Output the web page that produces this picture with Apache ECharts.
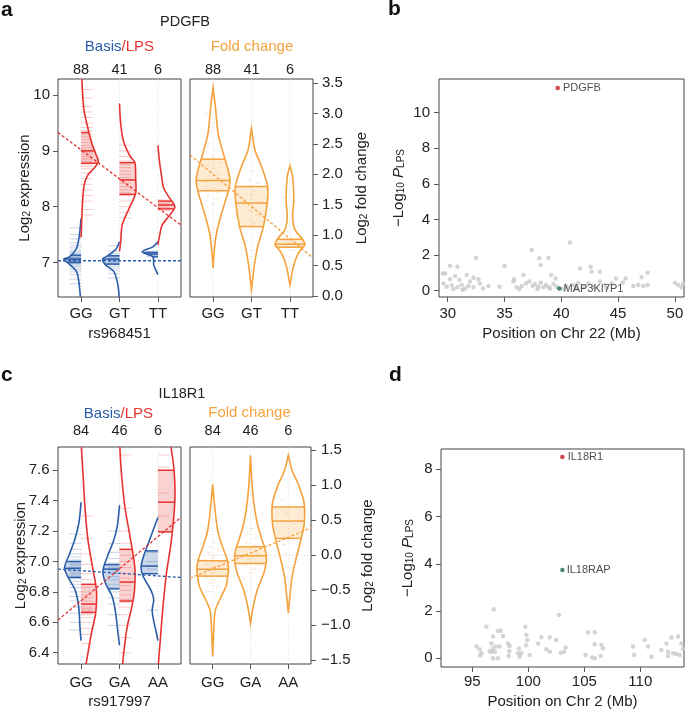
<!DOCTYPE html>
<html>
<head>
<meta charset="utf-8">
<script src="https://cdn.jsdelivr.net/npm/echarts@6/dist/echarts.min.js"></script>
<style>
  html, body { margin: 0; padding: 0; background: #fff; }
  #chart { width: 685px; height: 721px; }
</style>
</head>
<body>
<div id="chart"></div>
<script>
const FONT = '"Liberation Sans", Arial, Helvetica, sans-serif';
const TXT = '#222', AX = '#555';
const BLUE = '#2b5da9', RED = '#e63331', ORANGE = '#f5a23c', GREY = '#c9c9c9';
const BLUE_F = 'rgba(43,93,169,0.24)', RED_F = 'rgba(230,51,49,0.22)', ORANGE_F = 'rgba(245,162,60,0.22)';

// ---------- a : PDGFB, rs968451
const genoA = ['GG', 'GT', 'TT'];
const countsA = [88, 41, 6];
// violin outlines: [log2 value, half width in genotype units], top to bottom
const basisProfA = [
  [[7.79,0],[7.49,0.044],[7.25,0.12],[7.1,0.3],[7.06,0.45],[6.99,0.34],[6.84,0.12],[6.66,0.06],[6.48,0.03],[6.3,0.01]],
  [[7.37,0],[7.25,0.08],[7.13,0.28],[7.06,0.44],[6.96,0.37],[6.84,0.15],[6.66,0.06],[6.48,0.02],[6.3,0.01]],
  [[7.37,0],[7.28,0.13],[7.19,0.41],[7.1,0.13],[6.96,0.11],[6.84,0.04],[6.78,0]]
];
const basisBoxA = [[7.0,7.06,7.13],[6.97,7.06,7.12],[7.1,7.15,7.18]];
const basisPtsA = [
  [7.62,7.5,7.42,7.35,7.3,7.26,7.22,7.19,7.17,7.15,7.13,7.12,7.1,7.09,7.08,7.07,7.06,7.05,7.05,7.04,7.03,7.02,7.01,7.0,6.99,6.98,6.97,6.95,6.93,6.9,6.87,6.83,6.78,6.7,6.62],
  [7.3,7.2,7.16,7.13,7.11,7.09,7.07,7.06,7.05,7.04,7.02,7.0,6.98,6.96,6.93,6.9,6.86,6.8,6.72],
  [7.2,7.17,7.15,7.14,7.12,7.1]
];
const lpsProfA = [
  [[10.6,0.005],[10.3,0.02],[9.76,0.07],[9.46,0.16],[9.16,0.27],[8.95,0.38],[8.81,0.45],[8.7,0.35],[8.57,0.18],[8.39,0.08],[7.97,0.03],[7.6,0.01],[7.45,0]],
  [[9.85,0],[9.46,0.035],[9.16,0.11],[8.9,0.28],[8.79,0.4],[8.5,0.42],[8.24,0.42],[7.97,0.25],[7.67,0.07],[7.37,0.03],[7.2,0]],
  [[9.1,0],[8.81,0.04],[8.57,0.09],[8.33,0.15],[8.15,0.31],[8.0,0.44],[7.85,0.31],[7.67,0.11],[7.43,0.03],[7.31,0]]
];
const lpsBoxA = [[8.78,9.0,9.33],[8.22,8.48,8.79],[7.96,8.03,8.1]];
const lpsPtsA = [
  [10.3,10.1,9.95,9.8,9.7,9.6,9.5,9.42,9.36,9.3,9.25,9.2,9.15,9.1,9.06,9.02,9.0,8.97,8.94,8.9,8.87,8.84,8.81,8.78,8.75,8.72,8.68,8.6,8.5,8.4,8.3,8.2,8.1,7.95,7.85],
  [9.1,9.0,8.9,8.82,8.76,8.7,8.64,8.58,8.52,8.47,8.42,8.36,8.3,8.25,8.2,8.1,8.0,7.9,7.8],
  [8.12,8.06,8.02,7.99,7.97,7.93]
];
const foldProfA = [
  [[3.43,0],[3.12,0.06],[2.68,0.13],[2.4,0.24],[2.25,0.31],[2.05,0.4],[1.9,0.44],[1.73,0.4],[1.58,0.33],[1.31,0.2],[1.03,0.09],[0.76,0.035],[0.46,0]],
  [[2.76,0],[2.4,0.09],[2.13,0.26],[1.8,0.42],[1.53,0.41],[1.14,0.31],[0.81,0.16],[0.48,0.07],[0.1,0]],
  [[2.14,0],[1.96,0.07],[1.58,0.1],[1.3,0.07],[1.09,0.13],[0.93,0.33],[0.84,0.39],[0.75,0.27],[0.65,0.18],[0.48,0.09],[0.18,0]]
];
const foldBoxA = [[1.73,1.9,2.25],[1.14,1.53,1.8],[0.8,0.85,0.93]];
const foldPtsA = [
  [3.0,2.85,2.7,2.6,2.5,2.4,2.3,2.25,2.2,2.15,2.1,2.05,2.0,1.97,1.93,1.9,1.87,1.84,1.8,1.77,1.74,1.7,1.65,1.6,1.5,1.4,1.3,1.2,1.1,1.0],
  [2.25,2.05,1.9,1.85,1.78,1.72,1.66,1.6,1.55,1.5,1.45,1.4,1.33,1.26,1.2,1.15,1.1,1.0,0.9,0.75,0.65],
  [1.62,0.95,0.88,0.84,0.8,0.75]
];
const fitBasisA = [[0.4,7.03],[3.6,7.03]];
const fitLpsA = [[0.4,9.33],[3.6,7.67]];
const fitFoldA = [[0.4,2.32],[3.6,0.62]];
const exprTicksA = [7,8,9,10];
const foldTicksA = [0,0.5,1,1.5,2,2.5,3,3.5];

// ---------- b : chr 22
const snpB = [
  [40.76,2.7],[37.39,2.28],[32.49,1.85],[38.06,1.82],[38.86,1.85],[38.18,1.44],[35.0,1.39],[30.2,1.4],[30.85,1.35],
  [29.56,0.97],[41.64,1.24],[42.58,1.35],[42.67,1.07],[43.4,1.07],[47.6,1.01],[47.07,0.75],[45.66,0.69],[44.81,0.69],
  [39.09,0.88],[39.5,0.69],[36.66,0.88],[35.84,0.64],[29.77,0.97],[30.2,0.64],[30.65,0.82],[31.67,0.88],[32.26,0.73],
  [32.7,0.64],[31.96,0.51],[31.03,0.6],[29.62,0.41],[29.91,0.22],[30.35,0.3],[30.85,0.19],[31.23,0.32],[31.52,0.13],
  [31.82,0.26],[32.26,0.19],[32.84,0.41],[33.58,0.26],[34.55,0.22],[35.78,0.51],[36.07,0.19],[36.51,0.26],[36.89,0.41],
  [37.18,0.51],[37.48,0.26],[37.68,0.37],[37.98,0.22],[38.18,0.45],[38.42,0.19],[38.65,0.32],[39.0,0.13],[39.3,0.37],
  [39.59,0.22],[40.47,0.22],[41.06,0.32],[41.5,0.45],[41.94,0.22],[42.38,0.41],[42.82,0.22],[43.4,0.51],[43.84,0.32],
  [44.43,0.41],[45.4,0.45],[46.33,0.26],[46.77,0.32],[47.21,0.26],[47.6,0.32],[50.0,0.45],[50.29,0.32],[50.59,0.19],
  [50.73,0.41],[30.5,0.1],[31.3,0.05],[33.1,0.12],[36.3,0.08],[37.9,0.1],[38.9,0.2],[40.1,0.1],[41.3,0.12],[44.0,0.15]
];
const leadB = [39.68, 11.39];
const nearB = [39.82, 0.12];
const posTicksB = [30,35,40,45,50];
const pTicksB = [0,2,4,6,8,10];

// ---------- c : IL18R1, rs917997
const genoC = ['GG', 'GA', 'AA'];
const countsC = [84, 46, 6];
const basisProfC = [
  [[7.39,0],[7.25,0.06],[7.14,0.17],[7.05,0.3],[6.955,0.43],[6.88,0.3],[6.81,0.15],[6.7,0.06],[6.57,0.03],[6.48,0]],
  [[7.37,0],[7.23,0.06],[7.14,0.15],[7.03,0.32],[6.94,0.43],[6.86,0.37],[6.77,0.19],[6.66,0.1],[6.53,0.04],[6.45,0]],
  [[7.29,0],[7.14,0.22],[7.03,0.38],[6.96,0.44],[6.9,0.38],[6.81,0.18],[6.75,0.11],[6.68,0.15],[6.61,0.11],[6.53,0.04],[6.48,0]]
];
const basisBoxC = [[6.895,6.955,7.0],[6.82,6.95,6.98],[6.92,6.97,7.07]];
const basisPtsC = [
  [7.18,7.12,7.08,7.05,7.03,7.01,7.0,6.99,6.98,6.97,6.96,6.95,6.94,6.93,6.92,6.91,6.9,6.89,6.87,6.85,6.83,6.8,6.77,6.74,6.7,6.66,6.6,6.55],
  [7.2,7.12,7.06,7.02,6.99,6.97,6.96,6.95,6.94,6.92,6.9,6.88,6.85,6.83,6.8,6.76,6.72,6.65,6.58],
  [7.06,7.0,6.97,6.95,6.92,6.68]
];
const lpsProfC = [
  [[7.9,0],[7.75,0.01],[7.58,0.05],[7.36,0.1],[7.14,0.18],[6.96,0.3],[6.81,0.4],[6.66,0.38],[6.53,0.27],[6.4,0.18],[6.29,0.11],[6.2,0.07]],
  [[7.9,0],[7.75,0.01],[7.58,0.05],[7.36,0.14],[7.14,0.29],[6.96,0.4],[6.81,0.39],[6.7,0.32],[6.57,0.2],[6.4,0.11],[6.29,0.07],[6.2,0.04]],
  [[7.95,0.22],[7.8,0.31],[7.6,0.42],[7.4,0.44],[7.14,0.35],[6.92,0.22],[6.7,0.13],[6.48,0.06],[6.29,0]]
];
const lpsBoxC = [[6.665,6.72,6.85],[6.74,6.865,7.08],[7.195,7.39,7.6]];
const lpsPtsC = [
  [7.3,7.15,7.05,6.98,6.92,6.88,6.85,6.83,6.8,6.78,6.76,6.74,6.72,6.7,6.69,6.68,6.67,6.66,6.65,6.63,6.6,6.56,6.52,6.46],
  [7.7,7.35,7.2,7.12,7.08,7.04,7.0,6.96,6.92,6.89,6.86,6.84,6.81,6.78,6.75,6.73,6.7,6.65,6.58,6.5,6.4],
  [7.7,7.62,7.45,7.39,7.3,7.2]
];
const foldProfC = [
  [[1.01,0],[0.74,0.045],[0.36,0.13],[0.12,0.26],[-0.08,0.39],[-0.21,0.42],[-0.3,0.4],[-0.45,0.35],[-0.6,0.22],[-0.79,0.07],[-1.07,0.03],[-1.45,0]],
  [[1.43,0],[1.07,0.035],[0.74,0.09],[0.45,0.18],[0.21,0.31],[0.12,0.37],[-0.02,0.42],[-0.12,0.41],[-0.26,0.35],[-0.5,0.18],[-0.74,0.07],[-0.98,0]],
  [[1.43,0],[1.21,0.1],[1.02,0.26],[0.74,0.42],[0.45,0.42],[0.26,0.35],[-0.02,0.22],[-0.31,0.1],[-0.6,0.04],[-0.83,0]]
];
const foldBoxC = [[-0.3,-0.2,-0.08],[-0.12,-0.01,0.12],[0.24,0.49,0.69]];
const foldPtsC = [
  [0.35,0.18,0.12,0.08,0.04,0.0,-0.04,-0.07,-0.1,-0.13,-0.16,-0.18,-0.2,-0.22,-0.24,-0.26,-0.28,-0.3,-0.33,-0.36,-0.4,-0.45,-0.52,-0.6],
  [0.75,0.38,0.3,0.24,0.18,0.14,0.1,0.06,0.03,0.0,-0.03,-0.06,-0.1,-0.14,-0.2,-0.25,-0.32],
  [0.78,0.7,0.6,0.45,0.15,-0.18]
];
const fitBasisC = [[0.4,6.95],[3.6,6.895]];
const fitLpsC = [[0.4,6.615],[3.6,7.29]];
const fitFoldC = [[0.4,-0.33],[3.6,0.39]];
const zeroC = [[0.4,0],[3.6,0]];
const exprTicksC = [6.4,6.6,6.8,7.0,7.2,7.4,7.6];
const foldTicksC = [-1.5,-1,-0.5,0,0.5,1,1.5];

// ---------- d : chr 2
const snpD = [
  [96.91,2.08],[102.74,1.83],[96.25,1.34],[99.73,1.34],[97.29,1.17],[97.53,1.17],[96.85,0.92],[97.74,0.94],[101.16,0.89],
  [101.91,0.89],[99.82,0.99],[99.91,0.78],[102.5,0.78],[105.33,1.09],[105.93,1.1],[105.93,0.59],[106.52,0.56],[106.67,0.42],
  [110.39,0.78],[110.69,0.5],[110.99,0.07],[109.35,0.5],[109.44,0.14],[113.37,0.92],[112.78,0.88],[112.33,0.63],[113.67,0.63],
  [111.88,0.35],[112.48,0.28],[112.93,0.21],[113.22,0.18],[113.52,0.14],[112.48,0.1],[95.37,0.5],[95.66,0.38],[95.81,0.21],
  [95.7,0.12],[96.7,0.63],[96.85,0.42],[96.7,0.28],[97.0,0.28],[96.85,0.0],[97.29,0.0],[97.44,0.5],[98.18,0.63],[98.33,0.52],
  [98.24,0.1],[99.17,0.42],[99.07,0.21],[99.23,0.07],[99.37,0.21],[100.12,0.14],[100.87,0.63],[101.61,0.38],[101.91,0.28],
  [102.89,0.24],[103.19,0.28],[103.33,0.46],[105.11,0.14],[105.7,0.03],[105.93,0.0],[106.46,0.1],[97.1,0.5],[96.55,0.3],
  [98.3,0.3],[99.8,0.55],[113.8,0.4]
];
const leadD = [103.04, 8.52];
const nearD = [103.04, 3.74];
const posTicksD = [95,100,105,110];
const pTicksD = [0,2,4,6,8];

// spread of the fold-change marks around the violin centre
const JIT = [-0.16, 0.04, -0.06, 0.14, -0.11, 0.09, 0.0, -0.2, 0.19];

function widthAt(prof, v) {
  for (let i = 0; i < prof.length - 1; i++) {
    const a = prof[i], b = prof[i + 1];
    if (v <= a[0] && v >= b[0]) {
      return a[1] + (b[1] - a[1]) * (a[0] - v) / (a[0] - b[0]);
    }
  }
  return 0;
}

function seg(p1, p2, style) {
  return {type: 'line', shape: {x1: p1[0], y1: p1[1], x2: p2[0], y2: p2[1]}, style: style};
}

// side: -1 left half, 1 right half, 0 full violin
function drawViolin(api, x, prof, box, pts, side, color, fill) {
  const P = (dx, v) => api.coord([x + dx, v]);
  const out = [];
  const sides = side === 0 ? [-1, 1] : [side];
  const q1 = box[0], q3 = box[2];
  sides.forEach(s => {
    const poly = [P(0, q3), P(s * widthAt(prof, q3), q3)];
    prof.forEach(p => { if (p[0] < q3 && p[0] > q1) poly.push(P(s * p[1], p[0])); });
    poly.push(P(s * widthAt(prof, q1), q1), P(0, q1));
    out.push({type: 'polygon', shape: {points: poly}, style: {fill: fill}});
  });
  pts.forEach((v, k) => {
    let a, b;
    if (side === 0) { const c = JIT[k % JIT.length]; a = c - 0.05; b = c + 0.05; }
    else { a = 0; b = side * 0.3; }
    out.push(seg(P(a, v), P(b, v), {stroke: color, lineWidth: 1, opacity: 0.26}));
  });
  if (side === 0) {
    const ring = prof.map(p => P(-p[1], p[0])).concat(prof.slice().reverse().map(p => P(p[1], p[0])));
    out.push({type: 'polygon', shape: {points: ring, smooth: 0.3}, style: {fill: 'none', stroke: color, lineWidth: 1.6}});
  } else {
    out.push({type: 'polyline', shape: {points: prof.map(p => P(side * p[1], p[0])), smooth: 0.3},
      style: {fill: 'none', stroke: color, lineWidth: 1.6}});
  }
  box.forEach(q => {
    const w = widthAt(prof, q);
    out.push(seg(P(side === 0 ? -w : 0, q), P(side === 0 ? w : side * w, q), {stroke: color, lineWidth: 1.5}));
  });
  return out;
}

function violinSeries(xi, yi, profs, boxes, pts, side, color, fill, guides) {
  return {
    type: 'custom', xAxisIndex: xi, yAxisIndex: yi, clip: true, z: 3, silent: true,
    data: profs.map((p, i) => [i + 1, boxes[i][1]]),
    renderItem: (params, api) => {
      const i = params.dataIndex, x = api.value(0);
      const kids = [];
      if (guides) {
        const cs = params.coordSys, cx = api.coord([x, 0])[0];
        kids.push(seg([cx, cs.y], [cx, cs.y + cs.height], {stroke: '#d6d6d6', lineWidth: 0.8, lineDash: [1, 2]}));
      }
      return {type: 'group', children: kids.concat(drawViolin(api, x, profs[i], boxes[i], pts[i], side, color, fill))};
    }
  };
}

function fitSeries(xi, yi, data, color, dash) {
  return {type: 'line', xAxisIndex: xi, yAxisIndex: yi, data: data, symbol: 'none', silent: true, z: 6,
    lineStyle: {color: color, width: 1.3, type: dash || [3, 2]}};
}

const tickStyle = {show: true, length: 5, lineStyle: {color: AX, width: 1}};
const nameStyle = {color: TXT, fontSize: 15, fontFamily: FONT};
const richName = {
  n: {fontSize: 15, fontFamily: FONT, color: TXT, lineHeight: 20, verticalAlign: 'bottom'},
  i: {fontSize: 15, fontFamily: FONT, color: TXT, lineHeight: 20, verticalAlign: 'bottom', fontStyle: 'italic'},
  s: {fontSize: 10, fontFamily: FONT, color: TXT, lineHeight: 11, verticalAlign: 'bottom'}
};
const minus = s => s.replace('-', '\u2212');

function axis(grid, pos, min, max, ticks, fmt, margin, extra) {
  return Object.assign({
    type: 'value', gridIndex: grid, position: pos, min: min, max: max,
    axisLine: {show: false, onZero: false}, splitLine: {show: false},
    axisTick: Object.assign({customValues: ticks}, tickStyle),
    axisLabel: {customValues: ticks, formatter: fmt, margin: margin, color: TXT, fontSize: 15, fontFamily: FONT},
    nameTextStyle: nameStyle, nameMoveOverlap: false
  }, extra || {});
}

function countAxis(grid, counts, margin) {
  return {
    type: 'value', gridIndex: grid, position: 'top', min: 0.4, max: 3.6,
    axisLine: {show: false, onZero: false}, splitLine: {show: false}, axisTick: {show: false},
    axisLabel: {customValues: [1, 2, 3], formatter: v => String(counts[Math.round(v) - 1]), margin: margin,
      color: TXT, fontSize: 14.5, fontFamily: FONT}
  };
}

const genoFmt = labels => v => labels[Math.round(v) - 1];
const f1 = v => minus(v.toFixed(1));
const f0 = v => String(Math.round(v));

const xAxes = [
  axis(0, 'bottom', 0.4, 3.6, [1, 2, 3], genoFmt(genoA), 9, {name: 'rs968451', nameLocation: 'middle', nameGap: 29}),
  countAxis(0, countsA, 2),
  axis(1, 'bottom', 0.4, 3.6, [1, 2, 3], genoFmt(genoA), 9),
  countAxis(1, countsA, 2),
  axis(2, 'bottom', 29.23, 50.8, posTicksB, f0, 9, {name: 'Position on Chr 22 (Mb)', nameLocation: 'middle', nameGap: 29}),
  axis(3, 'bottom', 0.4, 3.6, [1, 2, 3], genoFmt(genoC), 11, {name: 'rs917997', nameLocation: 'middle', nameGap: 30}),
  countAxis(3, countsC, 9),
  axis(4, 'bottom', 0.4, 3.6, [1, 2, 3], genoFmt(genoC), 11),
  countAxis(4, countsC, 9),
  axis(5, 'bottom', 92.2, 113.9, posTicksD, f0, 7, {name: 'Position on Chr 2 (Mb)', nameLocation: 'middle', nameGap: 27})
];

const yName = (name, gap) => ({name: name, nameLocation: 'middle', nameRotate: 90, nameGap: gap,
  nameTextStyle: {rich: richName}});

const yAxes = [
  axis(0, 'left', 6.38, 10.29, exprTicksA, f0, 8, yName('{n|Log}{s|2}{n| expression}', 26)),
  axis(1, 'right', -0.02, 3.57, foldTicksA, f1, 9, yName('{n|Log}{s|2}{n| fold change}', 36)),
  axis(2, 'left', -0.354, 11.89, pTicksB, f0, 9, yName('{n|\u2212Log}{s|10}{n| }{i|P}{s|LPS}', 33)),
  axis(3, 'left', 6.326, 7.753, exprTicksC, f1, 8.5, yName('{n|Log}{s|2}{n| expression}', 30)),
  axis(4, 'right', -1.557, 1.547, foldTicksC, f1, 10, yName('{n|Log}{s|2}{n| fold change}', 44)),
  axis(5, 'left', -0.368, 8.86, pTicksD, f0, 8.5, yName('{n|\u2212Log}{s|10}{n| }{i|P}{s|LPS}', 26))
];

const grids = [
  {left: 58, top: 79, width: 123, height: 218},
  {left: 190, top: 79, width: 123, height: 218},
  {left: 439, top: 79, width: 245, height: 218},
  {left: 58, top: 447, width: 123, height: 217},
  {left: 190, top: 447, width: 121, height: 217},
  {left: 441, top: 449, width: 243, height: 218}
].map(g => Object.assign({show: true, borderColor: '#444', borderWidth: 1, backgroundColor: 'transparent',
  containLabel: false, outerBoundsMode: 'none'}, g));

function manhattan(xi, yi, bg, lead, leadName, near, nearName) {
  return [
    {type: 'scatter', xAxisIndex: xi, yAxisIndex: yi, data: bg, symbolSize: 4.5, silent: true,
      itemStyle: {color: GREY}, z: 2},
    {type: 'scatter', xAxisIndex: xi, yAxisIndex: yi, symbolSize: 4.5, silent: true, z: 4,
      data: [
        {value: lead, itemStyle: {color: '#c8171e'},
          label: {show: true, formatter: leadName, position: 'right', distance: 3, fontSize: 11, fontFamily: FONT, color: TXT}},
        {value: near, itemStyle: {color: '#1d6a52'},
          label: {show: true, formatter: nearName, position: 'right', distance: 2, fontSize: 11, fontFamily: FONT, color: TXT}}
      ]}
  ];
}

const series = [
  violinSeries(0, 0, basisProfA, basisBoxA, basisPtsA, -1, BLUE, BLUE_F, true),
  violinSeries(0, 0, lpsProfA, lpsBoxA, lpsPtsA, 1, RED, RED_F, false),
  violinSeries(2, 1, foldProfA, foldBoxA, foldPtsA, 0, ORANGE, ORANGE_F, true),
  fitSeries(0, 0, fitBasisA, BLUE),
  fitSeries(0, 0, fitLpsA, RED),
  fitSeries(2, 1, fitFoldA, ORANGE),
  ...manhattan(4, 2, snpB, leadB, 'PDGFB', nearB, 'MAP3KI7P1'),
  violinSeries(5, 3, basisProfC, basisBoxC, basisPtsC, -1, BLUE, BLUE_F, true),
  violinSeries(5, 3, lpsProfC, lpsBoxC, lpsPtsC, 1, RED, RED_F, false),
  {type: 'line', xAxisIndex: 7, yAxisIndex: 4, data: zeroC, symbol: 'none', silent: true, z: 1,
    lineStyle: {color: '#c8c8c8', width: 0.8, type: [1, 2]}},
  violinSeries(7, 4, foldProfC, foldBoxC, foldPtsC, 0, ORANGE, ORANGE_F, true),
  fitSeries(5, 3, fitBasisC, BLUE),
  fitSeries(5, 3, fitLpsC, RED),
  fitSeries(7, 4, fitFoldC, ORANGE),
  ...manhattan(9, 5, snpD, leadD, 'IL18R1', nearD, 'IL18RAP')
];

function txt(x, y, text, font, color, align) {
  return {type: 'text', x: x, y: y, silent: true,
    style: {text: text, font: font, fill: color || TXT, textAlign: align || 'center', align: align || 'center',
      textVerticalAlign: 'middle', verticalAlign: 'middle'}};
}
const F15 = '15px ' + FONT, F145 = '14.5px ' + FONT, BOLD = 'bold 21px ' + FONT;

const graphics = [
  txt(1, 10, 'a', BOLD, '#111', 'left'),
  txt(388, 9, 'b', BOLD, '#111', 'left'),
  txt(1, 375, 'c', BOLD, '#111', 'left'),
  txt(389, 375, 'd', BOLD, '#111', 'left'),
  txt(185, 21.5, 'PDGFB', F145),
  txt(182, 394, 'IL18R1', F145),
  txt(121.5, 47, 'Basis', F15, BLUE, 'right'),
  txt(121.5, 47, '/LPS', F15, RED, 'left'),
  txt(252, 47, 'Fold change', F15, ORANGE),
  txt(120.5, 414, 'Basis', F15, BLUE, 'right'),
  txt(120.5, 414, '/LPS', F15, RED, 'left'),
  txt(249.5, 413, 'Fold change', F15, ORANGE)
];

const chart = echarts.init(document.getElementById('chart'), null, {renderer: 'canvas'});
chart.setOption({
  animation: false,
  backgroundColor: '#fff',
  textStyle: {fontFamily: FONT},
  grid: grids,
  xAxis: xAxes,
  yAxis: yAxes,
  series: series,
  graphic: graphics
});
</script>
</body>
</html>
